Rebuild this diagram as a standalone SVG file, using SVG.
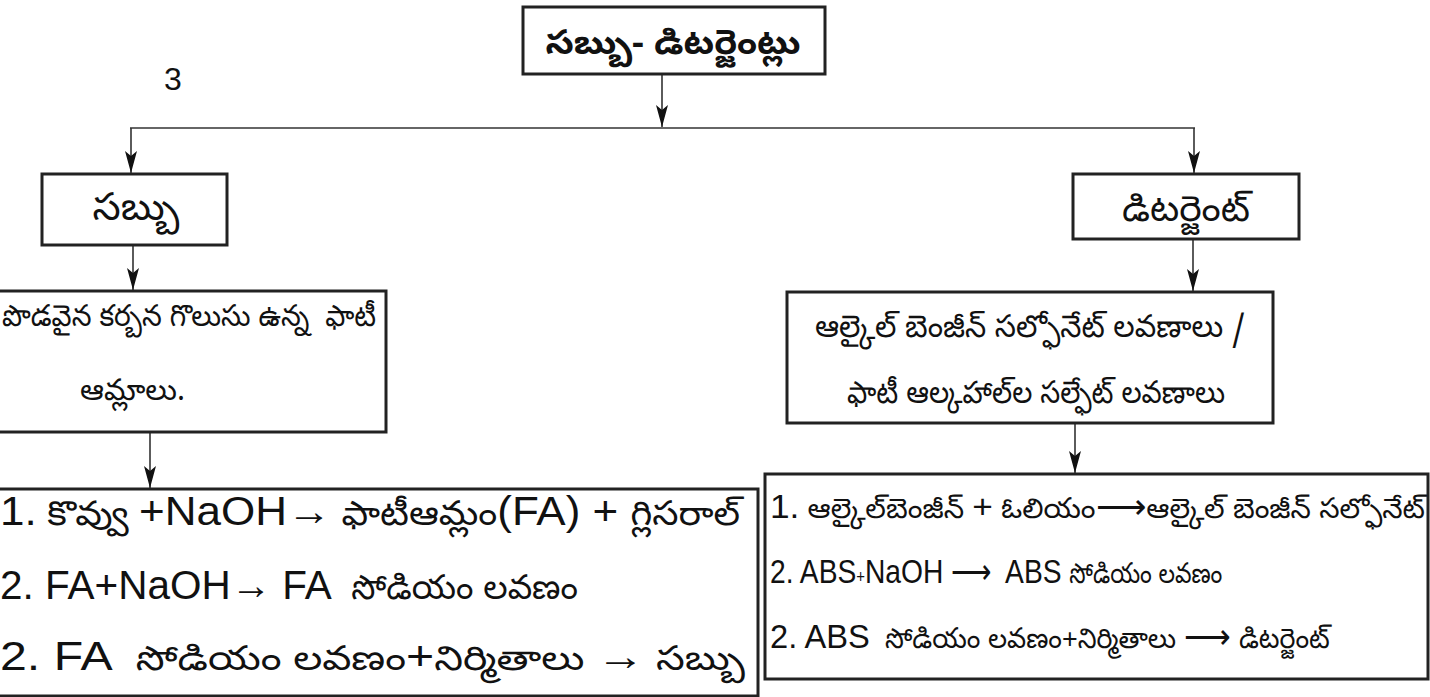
<svg xmlns="http://www.w3.org/2000/svg" width="1430" height="697" viewBox="0 0 1430 697">
  <style>
    .box { fill: #fff; stroke: #222; stroke-width: 3; }
    .wire { fill: none; stroke: #333; stroke-width: 1.6; }
    .te { font-family: "Noto Sans Telugu", "Noto Sans", "DejaVu Sans", sans-serif; fill: #111; white-space: pre; }
    .la { font-family: "Liberation Sans", Arial, sans-serif; fill: #111; }
  </style>
  <defs>
    <marker id="head" viewBox="0 0 22 12" refX="22" refY="6" markerWidth="22" markerHeight="12" markerUnits="userSpaceOnUse" orient="auto">
      <path d="M0,0 L22,6 L0,12 L5,6 z" fill="#111"/>
    </marker>
  </defs>

  <rect width="1430" height="697" fill="#fff"/>

  <!-- connectors -->
  <g id="connectors">
    <line class="wire" x1="662" y1="74" x2="662" y2="127" marker-end="url(#head)"/>
    <line class="wire" x1="130" y1="128" x2="1195" y2="128"/>
    <line class="wire" x1="131" y1="128" x2="131" y2="173" marker-end="url(#head)"/>
    <line class="wire" x1="1194" y1="128" x2="1194" y2="173" marker-end="url(#head)"/>
    <line class="wire" x1="133" y1="245" x2="133" y2="290" marker-end="url(#head)"/>
    <line class="wire" x1="1193" y1="239" x2="1193" y2="291" marker-end="url(#head)"/>
    <line class="wire" x1="150" y1="432" x2="150" y2="488" marker-end="url(#head)"/>
    <line class="wire" x1="1075" y1="423" x2="1075" y2="473" marker-end="url(#head)"/>
  </g>

  <!-- page number -->
  <text class="la" x="173" y="90" font-size="32" text-anchor="middle">3</text>

  <g id="root">
    <rect class="box" x="523" y="7" width="302" height="67"/>
    <text class="te" x="673" y="54" font-size="34" font-weight="bold" text-anchor="middle" textLength="255" lengthAdjust="spacingAndGlyphs">సబ్బు- డిటర్జెంట్లు</text>
  </g>

  <g id="soap">
    <rect class="box" x="42" y="174" width="185" height="71"/>
    <text class="te" x="136" y="220" font-size="38" text-anchor="middle" textLength="87" lengthAdjust="spacingAndGlyphs">సబ్బు</text>
  </g>

  <g id="detergent">
    <rect class="box" x="1073" y="174" width="226" height="65"/>
    <text class="te" x="1186" y="221" font-size="36" text-anchor="middle" textLength="128" lengthAdjust="spacingAndGlyphs">డిటర్జెంట్</text>
  </g>

  <g id="soap-source">
    <rect class="box" x="-2" y="291" width="388" height="141"/>
    <text class="te" x="2" y="326" font-size="30" textLength="374" lengthAdjust="spacingAndGlyphs">పొడవైన కర్బన గొలుసు ఉన్న  ఫాటీ</text>
    <text class="te" x="80" y="400" font-size="30">ఆమ్లాలు.</text>
  </g>

  <g id="detergent-source">
    <rect class="box" x="787" y="292" width="486" height="131"/>
    <text class="te" x="1030" y="337" font-size="31" text-anchor="middle" textLength="430" lengthAdjust="spacingAndGlyphs">ఆల్కైల్ బెంజీన్ సల్ఫోనేట్ లవణాలు /</text>
    <text class="te" x="1036" y="403" font-size="31" text-anchor="middle" textLength="378" lengthAdjust="spacingAndGlyphs">ఫాటీ ఆల్కహాల్‌ల సల్ఫేట్ లవణాలు</text>
  </g>

  <g id="soap-steps">
    <rect class="box" x="-2" y="489" width="760" height="207"/>
    <text class="te" x="0" y="525" font-size="34" textLength="740" lengthAdjust="spacingAndGlyphs"><tspan class="la" font-size="40">1.</tspan> కొవ్వు <tspan class="la" font-size="40">+NaOH→</tspan> ఫాటీఆమ్లం<tspan class="la" font-size="40">(FA) + </tspan>గ్లిసరాల్</text>
    <text class="te" x="0" y="599" font-size="34" textLength="578" lengthAdjust="spacingAndGlyphs"><tspan class="la" font-size="40">2. FA+NaOH→ FA</tspan>  సోడియం లవణం</text>
    <text class="te" x="0" y="670" font-size="34" textLength="745" lengthAdjust="spacingAndGlyphs"><tspan class="la" font-size="40">2. FA</tspan>  సోడియం లవణం<tspan class="la" font-size="40">+</tspan>నిర్మితాలు <tspan class="la" font-size="40">→</tspan> సబ్బు</text>
  </g>

  <g id="detergent-steps">
    <rect class="box" x="765" y="474" width="663" height="205"/>
    <text class="te" x="770" y="518" font-size="28" textLength="655" lengthAdjust="spacingAndGlyphs"><tspan class="la" font-size="34">1.</tspan> ఆల్కైల్‌బెంజీన్ <tspan class="la" font-size="34">+</tspan> ఓలియం<tspan class="la" font-size="34">⟶</tspan>ఆల్కైల్ బెంజీన్ సల్ఫోనేట్</text>
    <text class="te" transform="translate(770 583) scale(0.83 1)" x="0" y="0" font-size="28"><tspan class="la" font-size="34">2. ABS</tspan><tspan class="la" font-size="18">+</tspan><tspan class="la" font-size="34">NaOH ⟶  ABS </tspan>సోడియం లవణం</text>
    <text class="te" transform="translate(770 648) scale(0.96 1)" x="0" y="0" font-size="28"><tspan class="la" font-size="34">2. ABS</tspan>  సోడియం లవణం<tspan class="la" font-size="28">+</tspan>నిర్మితాలు <tspan class="la" font-size="34">⟶ </tspan>డిటర్జెంట్</text>
  </g>
</svg>
